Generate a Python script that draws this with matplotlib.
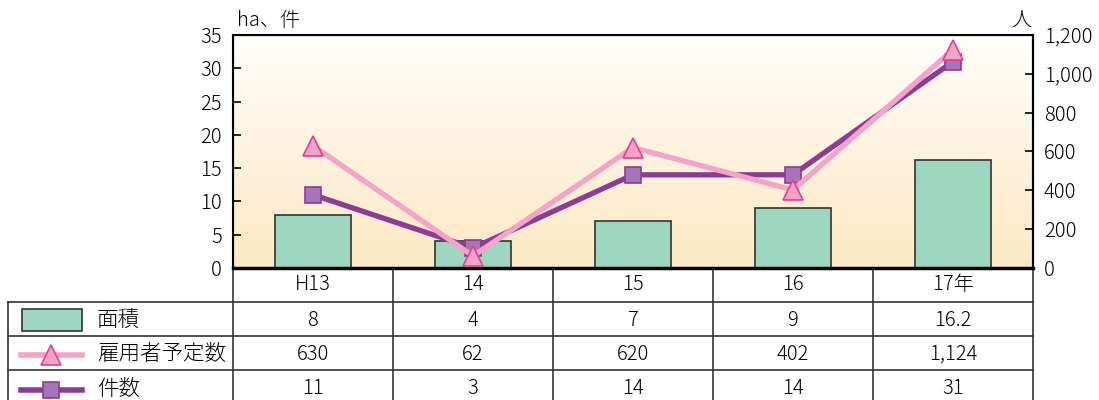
import numpy as np
import matplotlib
matplotlib.use("Agg")
import matplotlib.pyplot as plt
from matplotlib.patches import Rectangle
from matplotlib.lines import Line2D

plt.rcParams['font.family'] = ['Noto Sans CJK JP', 'DejaVu Sans']
plt.rcParams['font.weight'] = 'light'

# data
years = ["H13", "14", "15", "16", "17年"]
area = [8, 4, 7, 9, 16.2]              # 面積 (ha)
employees = [630, 62, 620, 402, 1124]  # 雇用者予定数 (人)
cases = [11, 3, 14, 14, 31]            # 件数

area_labels = ["8", "4", "7", "9", "16.2"]
emp_labels = ["630", "62", "620", "402", "1,124"]
case_labels = ["11", "3", "14", "14", "31"]

bar_color = "#9dd6c1"
pink_line = "#f5a3c9"
pink_edge = "#e2418e"
purple_line = "#8e3b97"
purple_fill = "#a575b8"
FS = 14.5

W, H = 1099, 400
fig = plt.figure(figsize=(W / 100, H / 100), dpi=100)

# table / legend layer in pixel coordinates
tab = fig.add_axes([0, 0, 1, 1])
tab.set_xlim(0, W)
tab.set_ylim(H, 0)
tab.axis("off")

ax = fig.add_axes([233 / W, (H - 268) / H, 800 / W, 233 / H])
x = np.arange(len(years))

# gradient background
grad = np.linspace(0, 1, 256).reshape(-1, 1)
cmap = matplotlib.colors.LinearSegmentedColormap.from_list("bg", ["#fffefb", "#fde8c3"])
ax.imshow(grad, extent=[0, 1, 0, 1], transform=ax.transAxes, cmap=cmap,
          aspect="auto", origin="upper", zorder=0)

ax.bar(x, area, width=0.475, color=bar_color, edgecolor="#333333", linewidth=1.2, zorder=2)
ax.set_xlim(-0.5, 4.5)
ax.set_ylim(0, 35)
ax.set_yticks(range(0, 36, 5))
ax.set_xticks([])
ax.tick_params(axis="y", direction="in", length=6, labelsize=FS, pad=8, width=1.2)
for s in ax.spines.values():
    s.set_linewidth(1.5)
ax.spines["bottom"].set_linewidth(2.5)

ax2 = ax.twinx()
ax2.set_ylim(0, 1200)
ax2.set_yticks(range(0, 1201, 200))
ax2.set_yticklabels([f"{v:,}" for v in range(0, 1201, 200)])
ax2.tick_params(axis="y", direction="in", length=6, labelsize=FS, pad=8, width=1.2)
ax2.spines["right"].set_linewidth(1.5)

# 件数 on left scale, 雇用者予定数 on right scale
ax2.plot(x, np.array(cases) * 1200 / 35, color=purple_line, lw=3.8, marker="s",
         ms=12, mfc=purple_fill, mec=purple_line, mew=1.2, zorder=3)
ax2.plot(x, employees, color=pink_line, lw=3.8, marker="^", ms=15,
         mfc=pink_line, mec=pink_edge, mew=1.2, zorder=4)

fig.text(237 / W, 1 - 20 / H, "ha、件", fontsize=FS, ha="left", va="center")
fig.text(1021 / W, 1 - 20 / H, "人", fontsize=FS, ha="center", va="center")

# table grid
lc = "#333333"
row_y = [302, 336, 370]
for y in row_y:
    tab.plot([8, 1033], [y, y], color=lc, lw=1.2)
cols = [233 + 160 * i for i in range(6)]
for cx in cols:
    tab.plot([cx, cx], [268, 400], color=lc, lw=1.2)
tab.plot([8, 8], [302, 400], color=lc, lw=1.2)

centers = [313 + 160 * i for i in range(5)]
for cx, t in zip(centers, years):
    tab.text(cx, 285, t, ha="center", va="center", fontsize=FS)
for cx, t in zip(centers, area_labels):
    tab.text(cx, 320, t, ha="center", va="center", fontsize=FS)
for cx, t in zip(centers, emp_labels):
    tab.text(cx, 354, t, ha="center", va="center", fontsize=FS)
for cx, t in zip(centers, case_labels):
    tab.text(cx, 389, t, ha="center", va="center", fontsize=FS)

# legend keys inside the table
tab.add_patch(Rectangle((22, 309), 60, 22, facecolor=bar_color, edgecolor="#333333", lw=1.2))
tab.add_line(Line2D([21, 82], [355, 355], color=pink_line, lw=4))
tab.plot([51], [355], marker="^", ms=15, mfc=pink_line, mec=pink_edge, mew=1.2)
tab.add_line(Line2D([21, 82], [390, 390], color=purple_line, lw=4))
tab.plot([51], [390], marker="s", ms=12, mfc=purple_fill, mec=purple_line, mew=1.2)
tab.text(97, 320, "面積", ha="left", va="center", fontsize=15.5)
tab.text(97, 354, "雇用者予定数", ha="left", va="center", fontsize=15.5)
tab.text(97, 389, "件数", ha="left", va="center", fontsize=15.5)

fig.savefig("out.png", dpi=100)
